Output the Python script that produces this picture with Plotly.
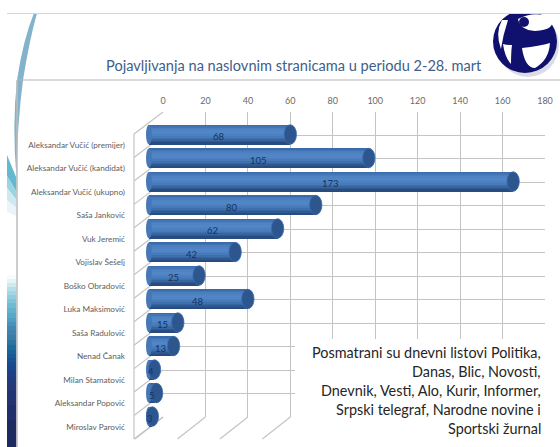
import plotly.graph_objects as go

names = ["Aleksandar Vučić (premijer)", "Aleksandar Vučić (kandidat)", "Aleksandar Vučić (ukupno)",
         "Saša Janković", "Vuk Jeremić", "Vojislav Šešelj", "Boško Obradović", "Luka Maksimović",
         "Saša Radulović", "Nenad Čanak", "Milan Stamatović", "Aleksandar Popović", "Miroslav Parović"]
values = [68, 105, 173, 80, 62, 42, 25, 48, 15, 13, 4, 5, 3]
tick_values = [0, 20, 40, 60, 80, 100, 120, 140, 160, 180]
title = "Pojavljivanja na naslovnim stranicama u periodu 2-28. mart"
note_lines = ["Posmatrani su dnevni listovi Politika,", "Danas, Blic, Novosti,",
              "Dnevnik, Vesti, Alo, Kurir, Informer,", "Srpski telegraf, Narodne novine i", "Sportski žurnal"]

W, H = 560, 447
FONT = "Lato"
GRID = "#c4c4c4"

def px(x):
    return x / W

def py(y):
    return 1 - y / H

def path(points):
    return "M" + " L".join(f"{px(x):.4f},{py(y):.4f}" for x, y in points) + " Z"

def curve(points):
    p = [f"{px(x):.4f},{py(y):.4f}" for x, y in points]
    out = "M" + p[0]
    for i in range(1, len(p) - 1, 2):
        out += f" Q{p[i]} {p[i + 1]}"
    return out + " Z"

shapes = []

def paper(kind, x0, y0, x1, y1, fill=None, line=None, lw=0, layer="below"):
    shapes.append(dict(type=kind, xref="paper", yref="paper", x0=px(x0), x1=px(x1), y0=py(y0), y1=py(y1),
                       fillcolor=fill, line=dict(color=line, width=lw), layer=layer))

def paper_path(d, fill, layer="below"):
    shapes.append(dict(type="path", xref="paper", yref="paper", path=d, fillcolor=fill,
                       line=dict(width=0), layer=layer))

# left decoration
strip = [(279, "#f6fbfc"), (283, "#e6f4f7"), (287, "#cdeaf0"), (291, "#b5e0ea"), (295, "#a2d7e4"), (299, "#90cede"),
         (303, "#7fc4d8"), (308, "#70bbd3"), (313, "#62b2cd"), (318, "#58a8c6"), (322, "#4f9fc0"),
         (326, "#4893b9"), (330, "#4388b2"), (335, "#3e82ad"), (340, "#3a7ca8"), (345, "#2c73a2"), (350, "#1f6a9c"),
         (354, "#1b6299"), (358, "#175a96"), (362, "#165393"), (366, "#154c90"), (371, "#19458a"), (376, "#1e3f84"),
         (383, "#213b7f"), (390, "#23377a"), (405, "#213373"), (420, "#202f6c"), (447, "#1c2a60")]
prev = 275
for y, c in strip:
    paper("rect", 7, prev, 16.5, y + 0.5, fill=c)
    prev = y
paper_path(path([(7, 155), (16.5, 178), (16.5, 192), (7, 176)]), "#63b9cf")
paper_path(path([(7, 176), (16.5, 192), (16.5, 200), (7, 188)]), "#9ad4e1")
paper_path(path([(7, 188), (16.5, 200), (16.5, 208), (7, 200)]), "#cdeaf0")
paper_path(path([(7, 200), (16.5, 208), (16.5, 216), (7, 212)]), "#e9f5f8")
paper_path(curve([(34, 13), (23, 40), (17, 80), (12, 125), (16.5, 178), (17, 125), (23, 80), (29, 42), (37, 13)]), "#82b3ca")
paper("line", 7, 13.5, 560, 13.5, line="#d6d6d6", lw=1)
paper("line", 17, 80, 560, 80, line="#b4b4b4", lw=1)
paper("line", 17, 80, 17, 447, line="#bdbdbd", lw=1.5)

# floor and side of the 3D box
for t in tick_values:
    bx = 163 + t * 382 / 180
    paper("line", bx, 417, bx - 28, 439, line=GRID, lw=1.2)
for k in range(14):
    by = 112 + k * 305 / 13
    paper("line", 163, by, 134, by + 22, line=GRID, lw=1.2)
paper("line", 134, 134, 134, 439, line=GRID, lw=1.2)

fig = go.Figure()

# gradient across the cylinders
bands = ["#3a6bab", "#4375b6", "#4a7ebf", "#4f83c4", "#5186c7", "#5084c5", "#4c80c0",
         "#467ab9", "#3f70ae", "#3765a0", "#2e588f", "#284c80"]
BAR = 0.83
bw = BAR / len(bands)
for j, col in enumerate(bands):
    fig.add_trace(go.Bar(y=names, x=[v - 1.4 for v in values], base=1.4, orientation="h",
                         width=bw * 1.08, offset=-BAR / 2 + j * bw,
                         marker=dict(color=col, line=dict(width=0)),
                         xaxis="x2", yaxis="y2", showlegend=False, hoverinfo="skip"))

# invisible carrier traces so that every axis is drawn
fig.add_trace(go.Scatter(x=[0, 180], y=[0, 13], mode="markers", marker=dict(opacity=0),
                         xaxis="x", yaxis="y", showlegend=False, hoverinfo="skip"))
fig.add_trace(go.Scatter(x=[0] * len(names), y=names, mode="markers", marker=dict(opacity=0),
                         xaxis="x2", yaxis="y3", showlegend=False, hoverinfo="skip"))

annotations = []
for i, v in enumerate(values):
    # rounded left end
    shapes.append(dict(type="circle", xref="x2", yref="y2", x0=0, x1=2.8, y0=i - BAR / 2, y1=i + BAR / 2,
                       fillcolor="#4678b8", line=dict(width=0), layer="above"))
    # end cap
    shapes.append(dict(type="circle", xref="x2", yref="y2", x0=v - 2.9, x1=v + 2.9, y0=i - BAR / 2, y1=i + BAR / 2,
                       fillcolor="#2d568f", line=dict(color="#3a6bab", width=0.8), layer="above"))
    annotations.append(dict(x=v / 2 + 0.3, y=i + 0.09, xref="x2", yref="y2", text=str(v), showarrow=False,
                            font=dict(family=FONT, size=9.5, color="#16335f")))

# white note box
paper("rect", 295, 339, 560, 447, fill="white", layer="above")
for i, line in enumerate(note_lines):
    annotations.append(dict(xref="paper", yref="paper", x=px(543), y=py(352.5 + i * 18.9), text=line,
                            xanchor="right", yanchor="middle", showarrow=False,
                            font=dict(family=FONT, size=14.4, color="#262626")))

annotations.append(dict(xref="paper", yref="paper", x=px(104), y=py(65.5), text=title, xanchor="left",
                        yanchor="middle", showarrow=False, font=dict(family=FONT, size=14.6, color="#3f6088")))

# logo
paper("circle", 497, 13, 559, 77, fill="#dcdce6")
paper("circle", 493, 10, 557, 73, fill="#10116e")
paper_path(curve([(518, 19), (535, 10), (552, 18), (556, 30), (535, 31), (520, 30), (518, 19)]), "white")
paper("circle", 519, 17, 529, 27, fill="#10116e")
paper_path(curve([(522, 48), (540, 46), (550, 43), (549, 60), (535, 68), (525, 68), (522, 48)]), "white")
paper_path(curve([(502, 20), (495, 33), (501, 49), (503, 35), (508, 20), (505, 20), (502, 20)]), "white")
paper_path(curve([(503, 44), (505, 58), (511, 64), (511, 52), (512, 45), (507, 45), (503, 44)]), "white")
paper("rect", 480, 0, 560, 13, fill="white")
paper("line", 480, 13.5, 560, 13.5, line="#d6d6d6", lw=1)

axis_off = dict(showline=False, zeroline=False, showticklabels=False, ticks="", showgrid=False)

fig.update_layout(
    width=W, height=H, margin=dict(l=0, r=0, t=0, b=0, pad=0, autoexpand=False),
    paper_bgcolor="white", plot_bgcolor="rgba(0,0,0,0)", barmode="overlay", bargap=0,
    showlegend=False, font=dict(family=FONT), shapes=shapes, annotations=annotations,
    xaxis=dict(domain=[px(163), px(545)], range=[0, 180], side="top", anchor="y", tickmode="array",
               tickvals=tick_values, ticktext=[str(t) for t in tick_values], showgrid=True, gridcolor=GRID,
               gridwidth=1.2, zeroline=False, showline=False, ticks="", ticklabelstandoff=5,
               tickfont=dict(family=FONT, size=9, color="#6a6a6a")),
    yaxis=dict(domain=[py(417), py(112)], range=[13, 0], dtick=1, anchor="x", showgrid=True, gridcolor=GRID,
               gridwidth=1.2, zeroline=False, showline=False, showticklabels=False, ticks=""),
    xaxis2=dict(domain=[px(146), px(528)], range=[0, 180], anchor="y2", **axis_off),
    yaxis2=dict(domain=[py(428.25), py(122.75)], type="category", categoryorder="array", categoryarray=names,
                range=[12.5, -0.5], anchor="x2", **axis_off),
    yaxis3=dict(domain=[py(438.75), py(133.25)], type="category", categoryorder="array", categoryarray=names,
                range=[12.5, -0.5], anchor="free", position=px(125), side="left",
                showgrid=False, zeroline=False, showline=False, ticks="",
                tickfont=dict(family=FONT, size=8.2, color="#5e5e5e")),
)

fig.write_html("out.html", config=dict(displayModeBar=False), post_script="document.body.style.margin='0';")
